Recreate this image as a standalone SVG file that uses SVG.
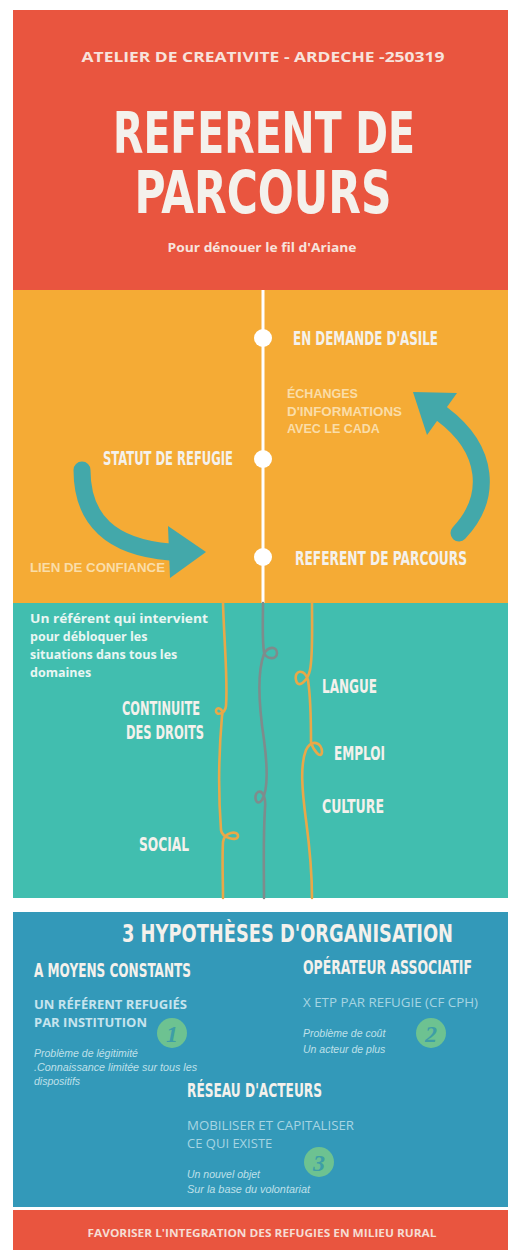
<svg xmlns="http://www.w3.org/2000/svg" width="508" height="1250" viewBox="0 0 508 1250">
<style>
.cond{font-family:"DejaVu Sans Condensed","DejaVu Sans",sans-serif;font-weight:bold;fill:#F4F1EC}
.lbl{font-size:20px}
.ob{font-family:"Open Sans","Liberation Sans",sans-serif;font-weight:bold}
.ar{font-family:"Liberation Sans",Arial,sans-serif;font-weight:bold}
.it{font-family:"Liberation Sans",Arial,sans-serif;font-style:italic;font-size:10.5px;fill:#BFE0EA}
.reg{font-family:"Open Sans","Liberation Sans",sans-serif;font-size:13px;fill:#A6D5E3}
.arrow{fill:none;stroke:#43A8AA;stroke-width:17;stroke-linecap:round}
.head{fill:#43A8AA}
.dot{fill:#FFFFFF}
.thread{fill:none;stroke-width:2.6;stroke-linecap:round}
.num{fill:#6DC291}
.numt{font-family:"Liberation Serif",serif;font-style:italic;font-weight:bold;font-size:24px;fill:#3E9EA6}
</style>
<rect x="0" y="0" width="508" height="1250" fill="#FFFFFF"/>

<g id="header">
<rect x="13" y="10" width="495" height="281" fill="#E9553F"/>
<text class="ob" x="263" y="62" font-size="15" fill="#F7E3DC" text-anchor="middle" textLength="363" lengthAdjust="spacingAndGlyphs">ATELIER DE CREATIVITE - ARDECHE -250319</text>
<text class="cond" x="264" y="153" font-size="57" fill="#FFFFFF" text-anchor="middle" textLength="302" lengthAdjust="spacingAndGlyphs">REFERENT DE</text>
<text class="cond" x="263" y="213" font-size="59" fill="#FFFFFF" text-anchor="middle" textLength="257" lengthAdjust="spacingAndGlyphs">PARCOURS</text>
<text class="ob" x="262" y="252" font-size="13" fill="#F7E3DC" text-anchor="middle" textLength="189" lengthAdjust="spacingAndGlyphs">Pour dénouer le fil d'Ariane</text>
</g>

<g id="parcours">
<rect x="13" y="290" width="495" height="313" fill="#F5AB35"/>
<rect x="261.5" y="290" width="3" height="313" fill="#FFFFFF"/>
</g>

<g id="connectors">
<path class="arrow" d="M 82 470 Q 82 545 170 552"/>
<polygon class="head" points="168,526 206,552 170,578"/>
<path class="arrow" d="M 459 533 C 492 498, 490 450, 442 414"/>
<polygon class="head" points="413,392 457,393 427,435"/>
</g>

<g id="node-asile">
<circle class="dot" cx="263" cy="338" r="9"/>
<text class="cond lbl" x="293" y="345" textLength="145" lengthAdjust="spacingAndGlyphs">EN DEMANDE D'ASILE</text>
</g>
<g id="node-statut">
<circle class="dot" cx="263" cy="459" r="9"/>
<text class="cond lbl" x="103" y="465" textLength="130" lengthAdjust="spacingAndGlyphs">STATUT DE REFUGIE</text>
</g>
<g id="node-referent">
<circle class="dot" cx="263" cy="557" r="9"/>
<text class="cond lbl" x="295" y="565" textLength="172" lengthAdjust="spacingAndGlyphs">REFERENT DE PARCOURS</text>
</g>
<g id="label-echanges">
<text class="ar" font-size="12.5" fill="#FADDA8">
<tspan x="287" y="398">ÉCHANGES</tspan>
<tspan x="287" y="416" textLength="115" lengthAdjust="spacingAndGlyphs">D'INFORMATIONS</tspan>
<tspan x="287" y="433">AVEC LE CADA</tspan>
</text>
</g>
<g id="label-lien">
<text class="ar" x="30" y="572" font-size="12" fill="#FADDA8" textLength="135" lengthAdjust="spacingAndGlyphs">LIEN DE CONFIANCE</text>
</g>

<g id="domaines">
<rect x="13" y="603" width="495" height="295" fill="#41BEAF"/>
<path class="thread" stroke="#E9A848" d="M 223 603 C 224 640, 228 680, 226 706 C 225 714, 216 716, 216 711 C 216 706, 224 708, 222 716 C 219 750, 218 790, 221 830 C 222 838, 238 842, 238 836 C 238 830, 224 832, 223 842 C 222 860, 223 880, 223 898"/>
<path class="thread" stroke="#7E8C8C" d="M 263 603 C 263 620, 262 640, 264 652 C 266 660, 277 660, 277 653 C 277 646, 268 646, 264 654 C 258 670, 258 700, 264 740 C 268 770, 268 790, 262 800 C 256 808, 253 795, 258 792 C 263 790, 266 798, 265 808 C 263 840, 264 870, 264 898"/>
<path class="thread" stroke="#E9A848" d="M 312 603 C 312 630, 313 655, 310 670 C 308 680, 298 690, 296 680 C 294 670, 304 668, 308 680 C 311 700, 311 720, 311 742 C 313 750, 321 760, 322 752 C 322 743, 312 738, 306 750 C 300 765, 302 790, 306 820 C 310 850, 312 870, 312 898"/>
<text class="ob" font-size="12.5" fill="#E9F6F3">
<tspan x="30" y="623" textLength="178" lengthAdjust="spacingAndGlyphs">Un référent qui intervient</tspan>
<tspan x="30" y="641">pour débloquer les</tspan>
<tspan x="30" y="659">situations dans tous les</tspan>
<tspan x="30" y="677">domaines</tspan>
</text>
</g>
<g id="node-continuite">
<text class="cond lbl" fill="#E6F3EF" x="122" y="715" textLength="78" lengthAdjust="spacingAndGlyphs">CONTINUITE</text>
<text class="cond lbl" fill="#E6F3EF" x="126" y="739" textLength="78" lengthAdjust="spacingAndGlyphs">DES DROITS</text>
</g>
<g id="node-langue"><text class="cond lbl" fill="#E6F3EF" x="322" y="693" textLength="55" lengthAdjust="spacingAndGlyphs">LANGUE</text></g>
<g id="node-emploi"><text class="cond lbl" fill="#E6F3EF" x="334" y="760" textLength="51" lengthAdjust="spacingAndGlyphs">EMPLOI</text></g>
<g id="node-culture"><text class="cond lbl" fill="#E6F3EF" x="322" y="813" textLength="62" lengthAdjust="spacingAndGlyphs">CULTURE</text></g>
<g id="node-social"><text class="cond lbl" fill="#E6F3EF" x="139" y="851" textLength="50" lengthAdjust="spacingAndGlyphs">SOCIAL</text></g>

<g id="hypotheses">
<rect x="13" y="912" width="495" height="295" fill="#3399B9"/>
<text class="cond" x="122" y="942" font-size="25" fill="#FFFFFF" textLength="331" lengthAdjust="spacingAndGlyphs">3 HYPOTHÈSES D'ORGANISATION</text>
</g>
<g id="hyp-1">
<text class="cond lbl" fill="#EEF6F8" x="34" y="977" textLength="157" lengthAdjust="spacingAndGlyphs">A MOYENS CONSTANTS</text>
<text class="ob" font-size="12.5" fill="#C6E4EE">
<tspan x="34" y="1009" textLength="153" lengthAdjust="spacingAndGlyphs">UN RÉFÉRENT REFUGIÉS</tspan>
<tspan x="34" y="1027" textLength="113" lengthAdjust="spacingAndGlyphs">PAR INSTITUTION</tspan>
</text>
<circle class="num" cx="172" cy="1033" r="15"/>
<text class="numt" x="172" y="1042" text-anchor="middle">1</text>
<text class="it">
<tspan x="34" y="1057">Problème de légitimité</tspan>
<tspan x="34" y="1071" textLength="163" lengthAdjust="spacingAndGlyphs">.Connaissance  limitée sur tous les</tspan>
<tspan x="34" y="1085">dispositifs</tspan>
</text>
</g>
<g id="hyp-2">
<text class="cond lbl" fill="#EEF6F8" x="303" y="974" textLength="169" lengthAdjust="spacingAndGlyphs">OPÉRATEUR ASSOCIATIF</text>
<text class="reg" x="303" y="1007" textLength="175" lengthAdjust="spacingAndGlyphs">X ETP PAR REFUGIE (CF CPH)</text>
<circle class="num" cx="431" cy="1033" r="15"/>
<text class="numt" x="431" y="1042" text-anchor="middle">2</text>
<text class="it">
<tspan x="303" y="1037">Problème de coût</tspan>
<tspan x="303" y="1053">Un acteur de plus</tspan>
</text>
</g>
<g id="hyp-3">
<text class="cond lbl" fill="#EEF6F8" x="187" y="1097" textLength="135" lengthAdjust="spacingAndGlyphs">RÉSEAU D'ACTEURS</text>
<text class="reg">
<tspan x="187" y="1130" textLength="167" lengthAdjust="spacingAndGlyphs">MOBILISER ET CAPITALISER</tspan>
<tspan x="187" y="1148">CE QUI EXISTE</tspan>
</text>
<circle class="num" cx="319" cy="1162" r="15"/>
<text class="numt" x="319" y="1171" text-anchor="middle" font-style="normal">3</text>
<text class="it">
<tspan x="187" y="1178">Un nouvel objet</tspan>
<tspan x="187" y="1193" textLength="123" lengthAdjust="spacingAndGlyphs">Sur la base du volontariat</tspan>
</text>
</g>

<g id="footer">
<rect x="13" y="1210" width="495" height="40" fill="#E9553F"/>
<text class="ob" x="262" y="1237" font-size="10" fill="#F6DCD3" text-anchor="middle" textLength="349" lengthAdjust="spacingAndGlyphs">FAVORISER L'INTEGRATION DES REFUGIES EN MILIEU RURAL</text>
</g>
</svg>
